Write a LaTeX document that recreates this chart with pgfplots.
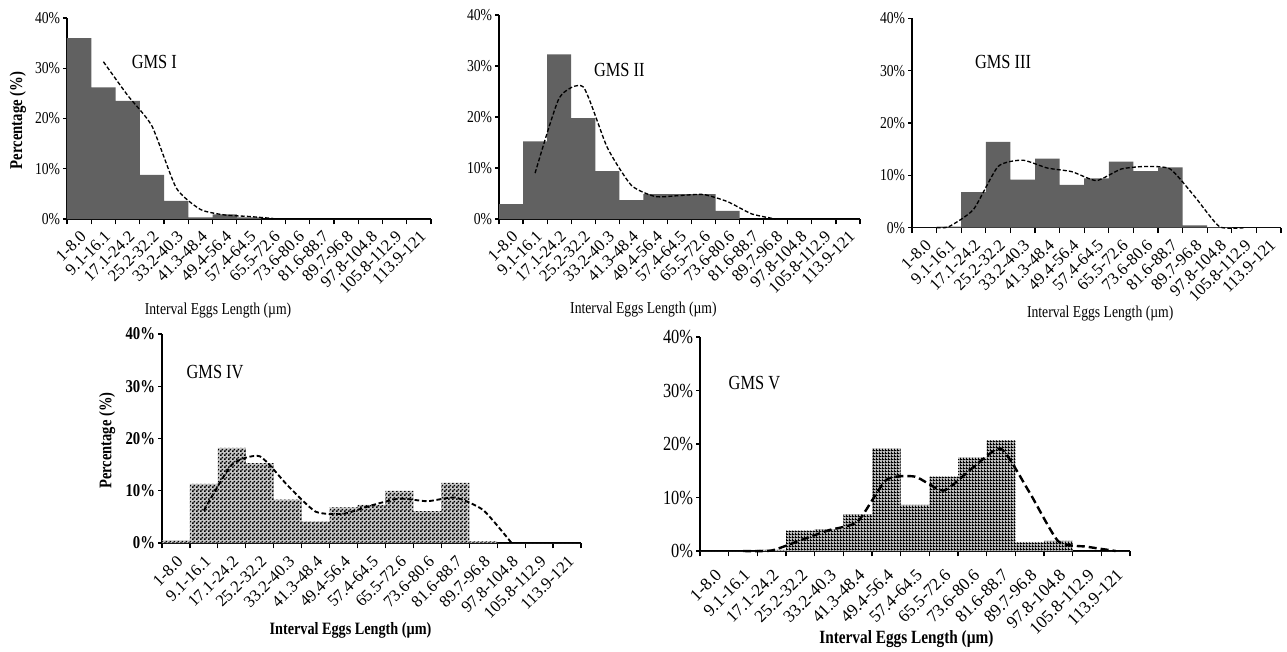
\documentclass[border=0pt]{standalone}
\usepackage{pgfplots}
\pgfplotsset{compat=1.18}
\usepackage{fontspec}
\setmainfont{Liberation Serif}[FakeStretch=0.82]
\newfontfamily\tickfont{Liberation Serif}
\usetikzlibrary{patterns}

\pgfdeclarepatternformonly{finecheck}{\pgfpointorigin}{\pgfpoint{3pt}{3pt}}{\pgfpoint{3pt}{3pt}}{%
  \pgfpathrectangle{\pgfpointorigin}{\pgfpoint{1.5pt}{1.5pt}}%
  \pgfpathrectangle{\pgfpoint{1.5pt}{1.5pt}}{\pgfpoint{1.5pt}{1.5pt}}%
  \pgfusepath{fill}}
\pgfdeclarepatternformonly{finegrid}{\pgfpointorigin}{\pgfpoint{2.25pt}{2.25pt}}{\pgfpoint{2.25pt}{2.25pt}}{%
  \pgfpathrectangle{\pgfpointorigin}{\pgfpoint{2.25pt}{0.9pt}}%
  \pgfpathrectangle{\pgfpointorigin}{\pgfpoint{0.9pt}{2.25pt}}%
  \pgfusepath{fill}}

\pgfplotsset{
  gms/.style={
    scale only axis,
    xmin=0, xmax=15, ymin=0, ymax=40,
    axis x line*=bottom, axis y line*=left,
    axis line style={-, line width=1.1pt},
    /pgf/number format/assume math mode=true,
    ytick={0,10,20,30,40},
    yticklabels={0\%,10\%,20\%,30\%,40\%},
    xtick={0.5,1.5,...,14.5},
    xticklabels={1-8.0,9.1-16.1,17.1-24.2,25.2-32.2,33.2-40.3,41.3-48.4,49.4-56.4,57.4-64.5,65.5-72.6,73.6-80.6,81.6-88.7,89.7-96.8,97.8-104.8,105.8-112.9,113.9-121},
    minor xtick={0,1,...,15},
    major x tick style={draw=none},
    minor tick length=4pt,
    major tick length=3pt,
    tick align=outside,
    tick style={line width=0.9pt, black},
    xticklabel shift=4pt,
    xticklabel style={rotate=45, anchor=north east, inner sep=0.5pt, font=\tickfont\fontsize{12.5}{13}\selectfont},
    yticklabel style={font=\fontsize{12.5}{13}\selectfont, inner sep=2pt},
    xlabel={Interval Eggs Length (µm)},
    xlabel style={font=\fontsize{12.5}{13}\selectfont},
    clip=false,
  },
  fillA/.style={ybar interval, fill=black!62, draw=none},
  fillB/.style={ybar interval, preaction={fill=black!22}, pattern=finecheck, pattern color=black, draw=none},
  fillC/.style={ybar interval, preaction={fill=black!25}, pattern=finegrid, pattern color=black, draw=none},
  ma/.style={smooth, tension=0.35, dashed, black, line width=1pt, dash pattern=on 3pt off 1.6pt},
}

\begin{document}
\begin{tikzpicture}
\path[use as bounding box] (0,0) rectangle ({1287*0.75pt},{651*0.75pt});

% ---------- GMS I ----------
\begin{axis}[gms, at={({67*0.75pt},{(651-219)*0.75pt})}, anchor=south west,
  width={364*0.75pt}, height={201*0.75pt},
  ylabel={\textbf{Percentage (\%)}},
  ylabel style={font=\fontsize{13.5}{14}\selectfont, at={(axis description cs:-0.135,0.49)}, anchor=center},
  xlabel style={at={(axis description cs:0.415,-0.453)}, anchor=center}]
\addplot[fillA] coordinates {(0,36.0) (1,26.2) (2,23.5) (3,8.8) (4,3.6) (5,0.3) (6,0.9) (7,0.3) (8,0) (9,0) (10,0) (11,0) (12,0) (13,0) (14,0) (15,0)};
\addplot[ma] coordinates {(1.5,31.3) (2.5,24.6) (3.5,18.5) (4.5,6.2) (5.5,1.9) (6.5,0.8) (7.5,0.5) (8.5,0.1)};
\node[font=\fontsize{15}{16}\selectfont] at (axis cs:3.6,31.2) {GMS I};
\end{axis}

% ---------- GMS II ----------
\begin{axis}[gms, at={({499*0.75pt},{(651-219)*0.75pt})}, anchor=south west,
  width={361*0.75pt}, height={204*0.75pt},
  xlabel style={at={(axis description cs:0.40,-0.446)}, anchor=center}]
\addplot[fillA] coordinates {(0,2.9) (1,15.2) (2,32.3) (3,19.8) (4,9.4) (5,3.7) (6,4.9) (7,4.9) (8,4.9) (9,1.6) (10,0) (11,0) (12,0) (13,0) (14,0) (15,0)};
\addplot[ma] coordinates {(1.5,9.0) (2.5,23.7) (3.5,25.9) (4.5,14.0) (5.5,6.6) (6.5,4.4) (7.5,4.6) (8.5,4.8) (9.5,3.4) (10.5,1.0) (11.5,0)};
\node[font=\fontsize{15}{16}\selectfont] at (axis cs:5.0,29.2) {GMS II};
\end{axis}

% ---------- GMS III ----------
\begin{axis}[gms, at={({912*0.75pt},{(651-227.7)*0.75pt})}, anchor=south west,
  width={369*0.75pt}, height={209.4*0.75pt},
  xlabel style={at={(axis description cs:0.51,-0.41)}, anchor=center}]
\addplot[fillA] coordinates {(0,0) (1,0.2) (2,6.8) (3,16.4) (4,9.2) (5,13.2) (6,8.2) (7,9.4) (8,12.6) (9,10.8) (10,11.5) (11,0.45) (12,0.1) (13,0) (14,0) (15,0)};
\addplot[ma] coordinates {(1.0,0) (1.5,0.2) (2.5,3.5) (3.5,11.7) (4.5,12.9) (5.5,11.4) (6.5,10.7) (7.5,9.0) (8.5,11.2) (9.5,11.7) (10.5,11.2) (11.5,5.9) (12.5,0.2) (13.5,0)};
\node[font=\fontsize{15}{16}\selectfont] at (axis cs:3.7,31.7) {GMS III};
\end{axis}

% ---------- GMS IV ----------
\begin{axis}[gms, at={({162*0.75pt},{(651-543)*0.75pt})}, anchor=south west,
  width={419*0.75pt}, height={209*0.75pt},
  yticklabel style={font=\bfseries\fontsize{13.5}{14}\selectfont},
  xticklabel style={font=\tickfont\fontsize{12.5}{13}\selectfont},
  xticklabel shift=5pt,
  ylabel={\textbf{Percentage (\%)}},
  ylabel style={font=\fontsize{13.3}{14}\selectfont, at={(axis description cs:-0.131,0.49)}, anchor=center},
  xlabel={\textbf{Interval Eggs Length (µm)}},
  xlabel style={font=\fontsize{13}{14}\selectfont, at={(axis description cs:0.45,-0.416)}, anchor=center}]
\addplot[fillB] coordinates {(0,0.5) (1,11.3) (2,18.2) (3,15.3) (4,8.3) (5,4.1) (6,6.8) (7,7.3) (8,10.0) (9,6.1) (10,11.5) (11,0.3) (12,0) (13,0) (14,0) (15,0)};
\addplot[ma, line width=1.4pt, dash pattern=on 3.5pt off 2pt] coordinates {(1.5,6.2) (2.5,15.0) (3.5,16.6) (4.5,11.0) (5.5,6.0) (6.5,5.6) (7.5,7.2) (8.5,8.5) (9.5,8.0) (10.5,8.7) (11.5,6.3) (12.5,0.1)};
\node[font=\fontsize{15}{16}\selectfont] at (axis cs:1.9,32.7) {GMS IV};
\end{axis}

% ---------- GMS V ----------
\begin{axis}[gms, at={({700*0.75pt},{(651-551)*0.75pt})}, anchor=south west,
  width={430*0.75pt}, height={214*0.75pt},
  yticklabel style={font=\fontsize{15}{16}\selectfont},
  xticklabel style={font=\tickfont\fontsize{13}{14}\selectfont},
  xticklabel shift=9pt,
  xlabel={\textbf{Interval Eggs Length (µm)}},
  xlabel style={font=\fontsize{14}{15}\selectfont, at={(axis description cs:0.48,-0.41)}, anchor=center}]
\addplot[fillC] coordinates {(0,0) (1,0) (2,0.2) (3,3.8) (4,4.1) (5,6.9) (6,19.2) (7,8.6) (8,13.9) (9,17.5) (10,20.7) (11,1.6) (12,1.9) (13,0) (14,0) (15,0)};
\addplot[ma, line width=1.8pt, dash pattern=on 6pt off 3pt] coordinates {(1.5,0) (2.5,0.1) (3.5,2.0) (4.5,3.9) (5.5,5.5) (6.5,13.3) (7.5,13.9) (8.5,11.3) (9.5,15.5) (10.5,19.1) (11.5,10.9) (12.5,1.8) (13.5,0.8) (14.5,0)};
\node[font=\fontsize{15}{16}\selectfont] at (axis cs:1.9,31.4) {GMS V};
\end{axis}
\end{tikzpicture}
\end{document}
